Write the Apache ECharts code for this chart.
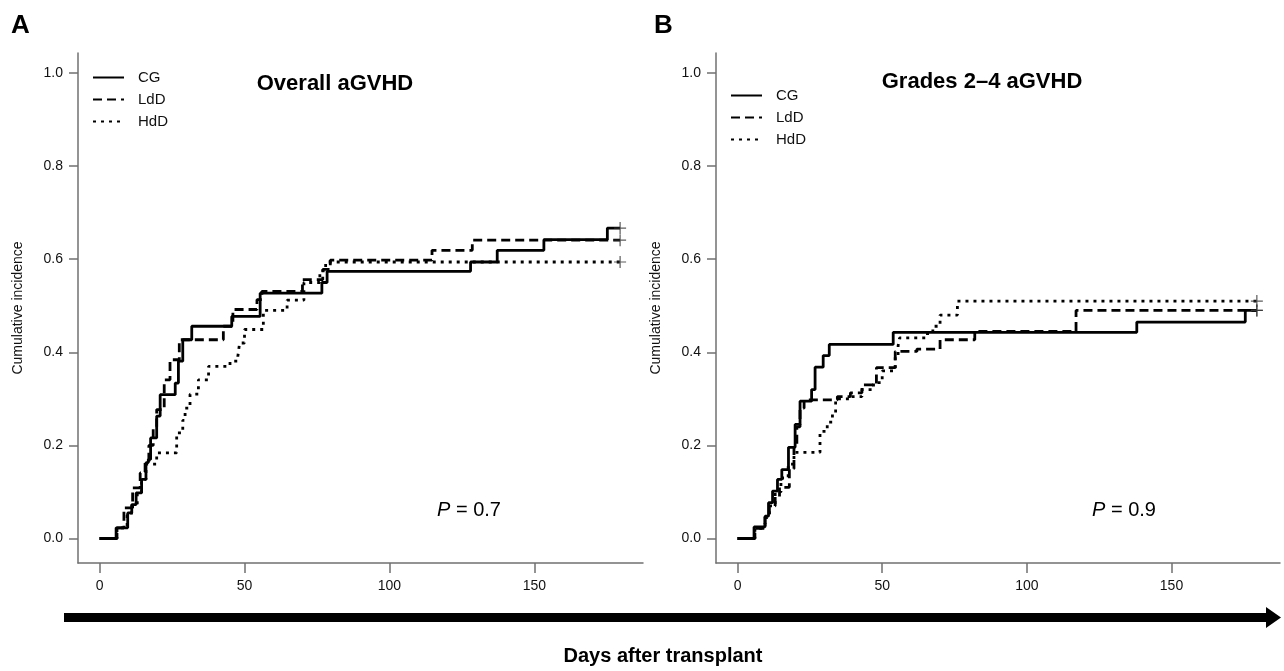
<!DOCTYPE html>
<html>
<head>
<meta charset="utf-8">
<script src="https://cdn.jsdelivr.net/npm/echarts@6/dist/echarts.min.js"></script>
<style>
  html, body { margin: 0; padding: 0; background: #fff; }
  #chart { width: 1284px; height: 671px; }
</style>
</head>
<body>
<div id="chart"></div>
<script>
// [day, cumulative incidence] at each step
const A_CG = [[0, 0], [5.7, 0.023], [9.7, 0.055], [11.1, 0.073], [12.6, 0.098], [14.5, 0.127], [16.0, 0.163], [16.8, 0.170], [17.6, 0.216], [19.7, 0.263], [20.9, 0.309], [26.1, 0.334], [27.2, 0.381], [28.7, 0.427], [31.8, 0.456], [45.6, 0.477], [55.4, 0.527], [76.7, 0.55], [78.5, 0.574], [128, 0.594], [137.2, 0.619], [153.3, 0.642], [175.2, 0.667], [179.6, 0.667]];
const A_LdD = [[0, 0], [6, 0.023], [8.4, 0.066], [11.4, 0.109], [14, 0.141], [15.7, 0.164], [17, 0.2], [18.5, 0.24], [19.7, 0.277], [22.3, 0.341], [24.3, 0.384], [27.5, 0.427], [42.7, 0.456], [46, 0.492], [54.3, 0.513], [56, 0.531], [70, 0.556], [77, 0.578], [79.6, 0.598], [114.7, 0.619], [128.6, 0.641], [179.6, 0.641]];
const A_HdD = [[0, 0], [6, 0.023], [9.5, 0.05], [11, 0.07], [13, 0.1], [14.5, 0.127], [16, 0.16], [19.7, 0.184], [26.6, 0.227], [28.7, 0.254], [29.5, 0.28], [31.2, 0.31], [34.1, 0.341], [37.6, 0.37], [45, 0.381], [47.7, 0.391], [48.3, 0.42], [50, 0.449], [56.5, 0.49], [64.7, 0.512], [70.5, 0.55], [76, 0.575], [78, 0.594], [179.6, 0.594]];

const B_CG = [[0, 0], [5.7, 0.025], [9.5, 0.048], [10.7, 0.077], [12.1, 0.102], [13.8, 0.127], [15.3, 0.148], [17.6, 0.196], [19.9, 0.245], [21.6, 0.295], [25.6, 0.32], [26.8, 0.368], [29.6, 0.393], [31.7, 0.417], [53.8, 0.443], [138, 0.465], [175.5, 0.49], [179.5, 0.49]];
const B_LdD = [[0, 0], [6, 0.022], [9.5, 0.045], [11, 0.07], [13, 0.09], [14.5, 0.11], [17.9, 0.15], [19.5, 0.2], [20.5, 0.24], [21.6, 0.28], [23, 0.298], [34.5, 0.305], [39, 0.313], [43, 0.33], [48, 0.367], [54.5, 0.402], [62, 0.407], [70, 0.427], [82, 0.445], [117, 0.49], [179.5, 0.49]];
const B_HdD = [[0, 0], [6, 0.022], [9.5, 0.045], [11, 0.07], [13, 0.1], [15, 0.13], [17.5, 0.16], [19.5, 0.185], [28.5, 0.23], [31, 0.25], [32.8, 0.27], [33.9, 0.3], [39, 0.305], [43, 0.32], [47, 0.335], [50, 0.36], [54.5, 0.39], [55.5, 0.414], [56, 0.431], [65, 0.44], [67.5, 0.456], [70, 0.48], [76, 0.51], [179.5, 0.51]];

const groups = ['CG', 'LdD', 'HdD'];
const xTicks = [0, 50, 100, 150];
const yTicks = [0, 0.2, 0.4, 0.6, 0.8, 1.0];
const pValues = ['0.7', '0.9'];

const FONT = '"Liberation Sans", Arial, sans-serif';
const dashTypes = ['solid', [9, 5], [3, 5]];
const axisGray = '#707070';

const myChart = echarts.init(document.getElementById('chart'));

function makeX(gridIndex) {
  return {
    type: 'value', gridIndex: gridIndex, min: -7.45, max: 187.5,
    splitLine: { show: false },
    axisLine: { show: true, onZero: false, lineStyle: { color: axisGray, width: 1.5 } },
    axisTick: { show: true, length: 10, customValues: xTicks, lineStyle: { color: axisGray, width: 1.5 } },
    axisLabel: { customValues: xTicks, margin: 16, color: '#111', fontSize: 14, fontFamily: FONT }
  };
}
function makeY(gridIndex) {
  return {
    type: 'value', gridIndex: gridIndex, min: -0.0526, max: 1.043,
    name: 'Cumulative incidence', nameLocation: 'middle', nameGap: 53,
    nameTextStyle: { fontSize: 14, color: '#111', fontFamily: FONT },
    splitLine: { show: false },
    axisLine: { show: true, onZero: false, lineStyle: { color: axisGray, width: 1.5 } },
    axisTick: { show: true, length: 9, customValues: yTicks, lineStyle: { color: axisGray, width: 1.5 } },
    axisLabel: { customValues: yTicks, margin: 15, color: '#111', fontSize: 14, fontFamily: FONT,
      formatter: v => v.toFixed(1) }
  };
}

const panels = [[A_CG, A_LdD, A_HdD], [B_CG, B_LdD, B_HdD]];
const series = [];
panels.forEach((curves, p) => {
  curves.forEach((pts, g) => {
    series.push({
      name: groups[g], type: 'line', step: 'end', xAxisIndex: p, yAxisIndex: p,
      data: pts, symbol: 'none', z: 3 - g, color: '#000',
      lineStyle: { color: '#000', width: 2.8, type: dashTypes[g], cap: 'butt' }
    });
  });
  // censor marks at the end of each curve
  series.push({
    name: 'censor', type: 'scatter', xAxisIndex: p, yAxisIndex: p,
    data: curves.map(c => c[c.length - 1]),
    symbol: 'path://M4.5,0h1v4.5h4.5v1h-4.5v4.5h-1v-4.5h-4.5v-1h4.5z', symbolSize: 12,
    itemStyle: { color: '#333' }, z: 5, silent: true
  });
});

function makeLegend(left, top) {
  return {
    data: groups, orient: 'vertical', left: left, top: top,
    itemWidth: 31, itemHeight: 12, itemGap: 7, padding: 0,
    itemStyle: { color: 'rgba(0,0,0,0)', borderWidth: 0 },
    textStyle: { fontSize: 15, color: '#111', fontFamily: FONT, padding: [0, 0, 0, 9] }
  };
}

const option = {
  animation: false,
  backgroundColor: '#fff',
  grid: [
    { left: 78, top: 53, width: 565, height: 510 },
    { left: 716, top: 53, width: 564, height: 510 }
  ],
  xAxis: [makeX(0), makeX(1)],
  yAxis: [makeY(0), makeY(1)],
  legend: [makeLegend(92, 70), makeLegend(730, 88)],
  series: series,
  graphic: [
    { type: 'text', left: 11, top: 13, style: { text: 'A', font: 'bold 26px ' + FONT, fill: '#000' } },
    { type: 'text', left: 654, top: 13, style: { text: 'B', font: 'bold 26px ' + FONT, fill: '#000' } },
    { type: 'text', x: 335, y: 84, style: { text: 'Overall aGVHD', font: 'bold 22px ' + FONT, fill: '#000', align: 'center', verticalAlign: 'middle' } },
    { type: 'text', x: 982, y: 82, style: { text: 'Grades 2–4 aGVHD', font: 'bold 22px ' + FONT, fill: '#000', align: 'center', verticalAlign: 'middle' } },
    { type: 'text', x: 437, y: 510, style: { text: '{i|P} = ' + pValues[0], font: '20px ' + FONT, fill: '#000', verticalAlign: 'middle',
        rich: { i: { fontStyle: 'italic', fontSize: 20, fontFamily: FONT } } } },
    { type: 'text', x: 1092, y: 510, style: { text: '{i|P} = ' + pValues[1], font: '20px ' + FONT, fill: '#000', verticalAlign: 'middle',
        rich: { i: { fontStyle: 'italic', fontSize: 20, fontFamily: FONT } } } },
    { type: 'polygon', shape: { points: [[64, 613], [1266, 613], [1266, 607], [1281, 617.5], [1266, 628], [1266, 622], [64, 622]] },
      style: { fill: '#000' } },
    { type: 'text', x: 663, y: 656, style: { text: 'Days after transplant', font: 'bold 20px ' + FONT, fill: '#000', align: 'center', verticalAlign: 'middle' } }
  ]
};

myChart.setOption(option);
window.addEventListener('resize', function () {
  myChart.resize();
});
</script>
</body>
</html>
